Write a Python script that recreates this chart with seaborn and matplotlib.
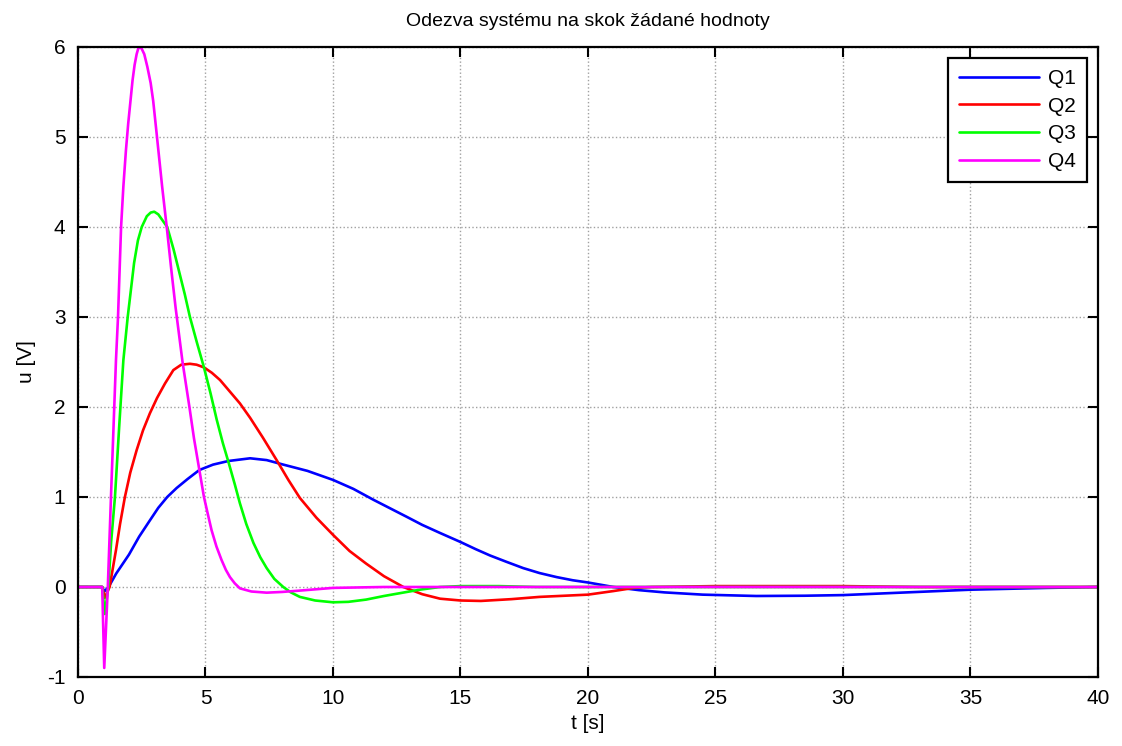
import pandas as pd
import matplotlib
matplotlib.use("Agg")
import matplotlib.pyplot as plt
import seaborn as sns

# values (t in s, u in V)
t_q1 = [0, 0.95, 1.03, 1.2, 1.5, 2.0, 2.4, 2.82, 3.15, 3.5, 3.87, 4.3, 4.76, 5.3, 5.9, 6.75,
        7.4, 8.05, 9.0, 10.0, 10.8, 11.58, 12.2, 12.89, 13.5, 14.2, 15.0, 15.6, 16.16, 16.8,
        17.46, 18.1, 18.77, 19.4, 20.0, 20.5, 21.0, 22.0, 23.0, 24.5, 26.6, 28.5, 30.0, 32.5,
        35.0, 38.0, 40.0]
u_q1 = [0, 0, -0.05, 0, 0.15, 0.36, 0.56, 0.74, 0.88, 1.0, 1.1, 1.2, 1.3, 1.36, 1.4, 1.43,
        1.41, 1.36, 1.29, 1.19, 1.09, 0.97, 0.88, 0.78, 0.69, 0.6, 0.5, 0.42, 0.35, 0.28,
        0.21, 0.155, 0.11, 0.075, 0.05, 0.025, 0.0, -0.035, -0.06, -0.085, -0.1, -0.097, -0.09, -0.06,
        -0.03, -0.01, 0]

t_q2 = [0, 0.95, 1.05, 1.24, 1.49, 1.65, 1.84, 2.05, 2.3, 2.55, 2.82, 3.1, 3.41, 3.74, 4.05,
        4.39, 4.65, 4.94, 5.25, 5.57, 5.96, 6.35, 6.75, 7.25, 7.79, 8.25, 8.7, 9.35, 10.0, 10.65,
        11.3, 12.0, 12.76, 13.5, 14.2, 15.0, 15.8, 17.0, 18.1, 20.0, 21.0, 21.8, 22.5, 25.0,
        30.0, 33.0, 40.0]
u_q2 = [0, 0, -0.12, 0, 0.41, 0.7, 1.0, 1.27, 1.52, 1.74, 1.93, 2.1, 2.26, 2.41, 2.47,
        2.48, 2.47, 2.44, 2.38, 2.3, 2.17, 2.04, 1.88, 1.66, 1.41, 1.19, 0.99, 0.77, 0.58, 0.4,
        0.26, 0.12, 0.0, -0.08, -0.13, -0.15, -0.155, -0.135, -0.11, -0.085, -0.045, -0.01, 0.0, 0.01,
        0.01, 0.0, 0]

t_q3 = [0, 0.95, 1.05, 1.19, 1.3, 1.45, 1.62, 1.78, 1.95, 2.2, 2.35, 2.5, 2.7, 2.85, 2.99,
        3.15, 3.3, 3.5, 3.75, 3.97, 4.19, 4.39, 4.66, 4.94, 5.2, 5.44, 5.68, 5.92, 6.15, 6.35,
        6.6, 6.88, 7.15, 7.4, 7.7, 8.05, 8.35, 8.7, 9.3, 10.0, 10.6, 11.3, 12.0, 12.6, 13.4,
        14.2, 15.0, 16.5, 18.0, 40.0]
u_q3 = [0, 0, -0.3, 0, 0.5, 1.0, 1.8, 2.52, 3.0, 3.6, 3.85, 4.0, 4.12, 4.16, 4.17,
        4.14, 4.08, 4.0, 3.75, 3.5, 3.25, 3.0, 2.72, 2.44, 2.15, 1.86, 1.6, 1.37, 1.14, 0.93,
        0.7, 0.49, 0.33, 0.21, 0.09, 0.0, -0.06, -0.11, -0.15, -0.17, -0.165, -0.14, -0.1, -0.07, -0.03,
        0.0, 0.01, 0.01, 0, 0]

t_q4 = [0, 0.95, 1.03, 1.17, 1.3, 1.49, 1.57, 1.69, 1.78, 1.88, 1.97, 2.14, 2.22, 2.3, 2.36,
        2.43, 2.5, 2.6, 2.72, 2.85, 2.95, 3.08, 3.3, 3.5, 3.65, 3.83, 4.1, 4.37, 4.55, 4.76,
        4.94, 5.1, 5.24, 5.43, 5.63, 5.8, 5.96, 6.15, 6.35, 6.8, 7.4, 8.0, 8.7, 10.0, 12.0, 40.0]
u_q4 = [0, 0, -0.9, 0, 1.05, 2.52, 3.0, 4.0, 4.45, 4.85, 5.15, 5.63, 5.8, 5.92, 5.98,
        6.0, 5.98, 5.92, 5.78, 5.6, 5.4, 5.05, 4.45, 3.95, 3.55, 3.1, 2.5, 2.0, 1.65, 1.3,
        1.0, 0.8, 0.63, 0.45, 0.3, 0.19, 0.11, 0.04, -0.015, -0.05, -0.063, -0.055, -0.04, -0.01, 0, 0]

names = ["Q1", "Q2", "Q3", "Q4"]
colors = ["#0000ff", "#ff0000", "#00ff00", "#ff00ff"]

frames = []
for name, t, u in zip(names, [t_q1, t_q2, t_q3, t_q4], [u_q1, u_q2, u_q3, u_q4]):
    frames.append(pd.DataFrame({"t": t, "u": u, "serie": name}))
df = pd.concat(frames, ignore_index=True)

sns.set_theme(style="ticks")
plt.rcParams["font.family"] = ["Liberation Sans", "DejaVu Sans"]
plt.rcParams["axes.unicode_minus"] = False
plt.rcParams["text.color"] = "black"
plt.rcParams["axes.labelcolor"] = "black"

fig = plt.figure(figsize=(11.22, 7.46), dpi=100)
ax = fig.add_axes([0.0695, 0.0925, 0.9091, 0.8445])

sns.lineplot(data=df, x="t", y="u", hue="serie", palette=colors, linewidth=1.9,
             sort=False, estimator=None, ax=ax)

ax.set_xlim(0, 40)
ax.set_ylim(-1, 6)
ax.set_xticks(range(0, 41, 5))
ax.set_yticks(range(-1, 7))
ax.grid(True, linestyle=":", color="#a0a0a0", linewidth=1.0)
ax.tick_params(direction="in", length=7, width=1.5, top=True, right=True,
               labelsize=15, colors="black", pad=9)
for s in ax.spines.values():
    s.set_visible(True)
    s.set_linewidth(1.6)
    s.set_color("black")

ax.set_xlabel("t [s]", fontsize=15, labelpad=4, color="black")
ax.set_ylabel("u [V]", fontsize=15, labelpad=8, color="black")
ax.set_title("Odezva systému na skok žádané hodnoty", fontsize=14, pad=15, color="black")

handles, labels = ax.get_legend_handles_labels()
leg = ax.legend(handles, labels, loc="upper right", fontsize=15, frameon=True,
                fancybox=False, edgecolor="black", handlelength=3.85, borderpad=0.5,
                labelspacing=0.42, handletextpad=0.45, borderaxespad=0.55)
leg.get_frame().set_linewidth(1.6)
leg.get_frame().set_alpha(1)
for line in leg.get_lines():
    line.set_linewidth(1.9)
for txt in leg.get_texts():
    txt.set_color("black")

fig.savefig("out.png", dpi=100)
